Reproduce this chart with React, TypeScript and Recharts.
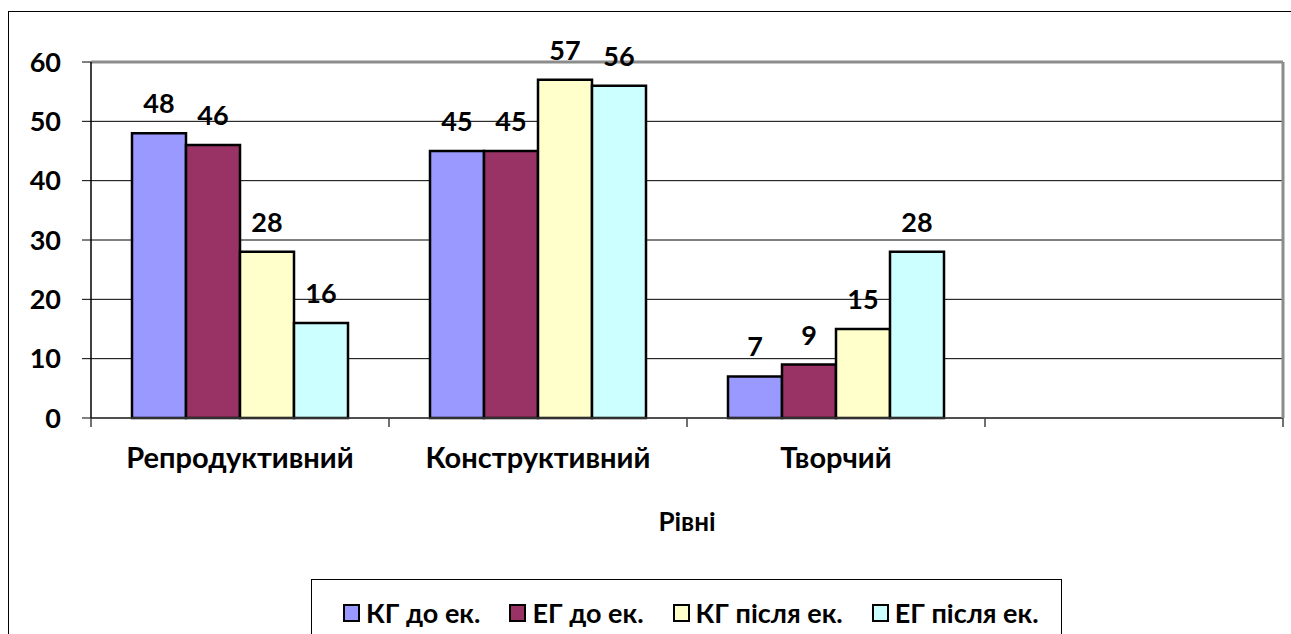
import {
  BarChart,
  Bar,
  XAxis,
  YAxis,
  CartesianGrid,
  LabelList,
  Legend,
  ReferenceLine,
} from 'recharts'

const FONT = 'Lato, "Noto Sans", sans-serif'
const FS = 27
const FS_CAT = 29

// категорії (четверта порожня, як в оригіналі)
const categories = ['Репродуктивний', 'Конструктивний', 'Творчий', '']
const kgBefore = [48, 45, 7, null]
const egBefore = [46, 45, 9, null]
const kgAfter = [28, 57, 15, null]
const egAfter = [16, 56, 28, null]
const yTicks = [0, 10, 20, 30, 40, 50, 60]

const seriesMeta = [
  { key: 'kgBefore', name: 'КГ до ек.', color: '#9999FF' },
  { key: 'egBefore', name: 'ЕГ до ек.', color: '#993366' },
  { key: 'kgAfter', name: 'КГ після ек.', color: '#FFFFCC' },
  { key: 'egAfter', name: 'ЕГ після ек.', color: '#CCFFFF' },
]

const rows = categories.map((name, i) => ({
  name,
  kgBefore: kgBefore[i],
  egBefore: egBefore[i],
  kgAfter: kgAfter[i],
  egAfter: egAfter[i],
}))

// підпис категорії + риски на межах категорій (як в Excel)
const CategoryTick = (props: any) => {
  const { x, y, payload, index, visibleTicksCount } = props
  const half = payload?.offset ?? 0
  const isLast = index === (visibleTicksCount ?? categories.length) - 1
  return (
    <g>
      <line x1={x - half} x2={x - half} y1={y} y2={y + 9} stroke="#404040" strokeWidth={1.5} />
      {isLast && <line x1={x + half} x2={x + half} y1={y} y2={y + 9} stroke="#404040" strokeWidth={1.5} />}
      <text x={x} y={y + 50} textAnchor="middle" fontFamily={FONT} fontWeight={700} fontSize={FS_CAT} fill="#000">
        {payload.value}
      </text>
    </g>
  )
}

const LegendBox = () => (
  <div
    style={{
      boxSizing: 'border-box',
      width: 751,
      height: 80,
      border: '1.5px solid #000',
      borderBottom: 'none',
      background: '#fff',
      display: 'flex',
      alignItems: 'flex-start',
      paddingLeft: 31,
      paddingTop: 18,
      fontFamily: FONT,
      fontWeight: 700,
      fontSize: 27,
      lineHeight: '30px',
      color: '#000',
      whiteSpace: 'nowrap',
    }}
  >
    {seriesMeta.map((s) => (
      <div key={s.key} style={{ display: 'flex', alignItems: 'center', marginRight: 29, flexShrink: 0 }}>
        <span
          style={{
            width: 13,
            height: 14,
            background: s.color,
            border: '2px solid #000',
            marginRight: 6,
            display: 'inline-block',
            flexShrink: 0,
          }}
        />
        <span>{s.name}</span>
      </div>
    ))}
  </div>
)

export default function App() {
  return (
    <div style={{ position: 'absolute', left: 0, top: 0, width: 1291, height: 634, overflow: 'hidden', background: '#fff' }}>
      <div
        style={{
          position: 'absolute',
          left: 8,
          top: 11,
          width: 1400,
          height: 800,
          border: '1.5px solid #000',
          boxSizing: 'border-box',
        }}
      />
      <div style={{ position: 'absolute', left: 0, top: 0 }}>
        <BarChart
          width={1291}
          height={634}
          data={rows}
          margin={{ top: 62, right: 0, bottom: 0, left: 0 }}
          barCategoryGap={41}
          barGap={0}
        >
          <CartesianGrid horizontal vertical={false} stroke="#000" strokeWidth={1} />
          <XAxis
            dataKey="name"
            height={216}
            axisLine={{ stroke: '#404040', strokeWidth: 1.5 }}
            tickLine={false}
            tickSize={0}
            tickMargin={0}
            interval={0}
            tick={<CategoryTick />}
            label={{
              content: ({ viewBox }: any) => (
                <text
                  x={viewBox.x + viewBox.width / 2}
                  y={viewBox.y + 113}
                  textAnchor="middle"
                  fontFamily={FONT}
                  fontWeight={700}
                  fontSize={FS - 1}
                  fill="#000"
                >
                  Рівні
                </text>
              ),
            }}
          />
          <YAxis
            width={91}
            domain={[0, 60]}
            ticks={yTicks}
            interval={0}
            axisLine={{ stroke: '#000', strokeWidth: 1.5 }}
            tickLine={{ stroke: '#000' }}
            tickSize={9}
            tickMargin={21}
            tick={{ fill: '#000', fontFamily: FONT, fontWeight: 700, fontSize: FS }}
          />
          <YAxis
            yAxisId="frame"
            orientation="right"
            width={8}
            domain={[0, 60]}
            axisLine={{ stroke: '#8c8c8c', strokeWidth: 3 }}
            tick={false}
            tickLine={false}
          />
          <ReferenceLine y={60} stroke="#8c8c8c" strokeWidth={3} />
          {seriesMeta.map((s) => (
            <Bar
              key={s.key}
              dataKey={s.key}
              name={s.name}
              fill={s.color}
              stroke="#000"
              strokeWidth={2.5}
              isAnimationActive={false}
            >
              <LabelList
                dataKey={s.key}
                position="top"
                offset={20}
                fill="#000"
                fontFamily={FONT}
                fontWeight={700}
                fontSize={FS}
              />
            </Bar>
          ))}
          <Legend
            verticalAlign="middle"
            align="center"
            layout="horizontal"
            wrapperStyle={{ left: 311, top: 579, width: 751, height: 80 }}
            content={() => <LegendBox />}
          />
        </BarChart>
      </div>
    </div>
  )
}
